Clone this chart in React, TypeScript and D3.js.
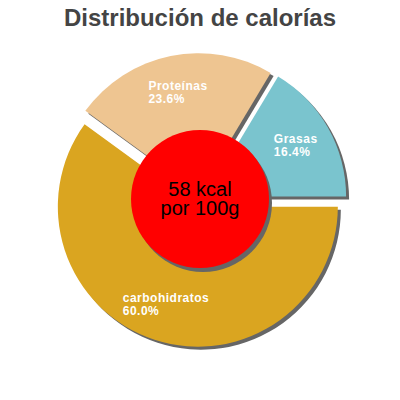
import React, { useEffect, useRef } from "react";
import * as d3 from "d3";

const titleText = "Distribución de calorías";
const categories = ["Grasas", "Proteínas", "carbohidratos"];
const percents = [16.4, 23.6, 60.0];
const colors = ["#7ac4ce", "#eec591", "#daa520"];
const centerLines = ["58 kcal", "por 100g"];

export default function App() {
  const ref = useRef<SVGSVGElement>(null);

  useEffect(() => {
    const svg = d3.select(ref.current);
    svg.selectAll("*").remove();
    const W = 400;
    const cx = 200, cy = 200, R = 140, offset = 7, labelR = 103;
    const font = "'Liberation Sans', Arial, sans-serif";

    svg.append("text")
      .attr("x", W / 2).attr("y", 26)
      .attr("text-anchor", "middle")
      .attr("font-family", font)
      .attr("font-size", 24).attr("font-weight", "bold")
      .attr("fill", "#444")
      .text(titleText);

    const data = categories.map((c, i) => ({ name: c, value: percents[i], color: colors[i] }));
    const pie = d3.pie<any>().sort(null).value((d: any) => d.value)
      .startAngle(Math.PI / 2).endAngle(Math.PI / 2 - 2 * Math.PI);
    const arcs = pie(data);
    const arc = d3.arc<any>().innerRadius(0).outerRadius(R);

    const g = svg.append("g").attr("transform", `translate(${cx},${cy})`);
    arcs.forEach((a) => {
      const mid = (a.startAngle + a.endAngle) / 2;
      const dx = Math.sin(mid) * offset, dy = -Math.cos(mid) * offset;
      g.append("path").attr("d", arc(a) as string)
        .attr("transform", `translate(${dx + 3},${dy + 3})`)
        .attr("fill", "#666");
      g.append("path").attr("d", arc(a) as string)
        .attr("transform", `translate(${dx},${dy})`)
        .attr("fill", a.data.color);
    });

    g.append("circle").attr("cx", 3).attr("cy", 3).attr("r", 69).attr("fill", "#666");
    g.append("circle").attr("cx", 0).attr("cy", -1).attr("r", 69).attr("fill", "#ff0000");

    centerLines.forEach((t, i) => {
      g.append("text").attr("x", 0).attr("y", -4 + i * 19)
        .attr("text-anchor", "middle")
        .attr("font-family", font).attr("font-size", 20)
        .attr("fill", "#000").text(t);
    });

    arcs.forEach((a) => {
      const mid = (a.startAngle + a.endAngle) / 2;
      const px = Math.sin(mid) * (offset + labelR);
      const py = -Math.cos(mid) * (offset + labelR);
      const tg = g.append("g");
      const lines = [a.data.name, a.data.value.toFixed(1) + "%"];
      lines.forEach((t, i) => {
        tg.append("text").attr("x", 0).attr("y", i * 13)
          .attr("font-family", font).attr("font-size", 12)
          .attr("font-weight", "bold").attr("letter-spacing", 0.5)
          .attr("fill", "#fff").text(t);
      });
      const bb = (tg.node() as SVGGElement).getBBox();
      tg.attr("transform", `translate(${px - bb.width / 2 - bb.x},${py - bb.height / 2 - bb.y})`);
    });
  }, []);

  return (
    <div style={{ position: "absolute", left: 0, top: 0 }}>
      <svg ref={ref} width={400} height={400} style={{ display: "block" }} />
    </div>
  );
}
